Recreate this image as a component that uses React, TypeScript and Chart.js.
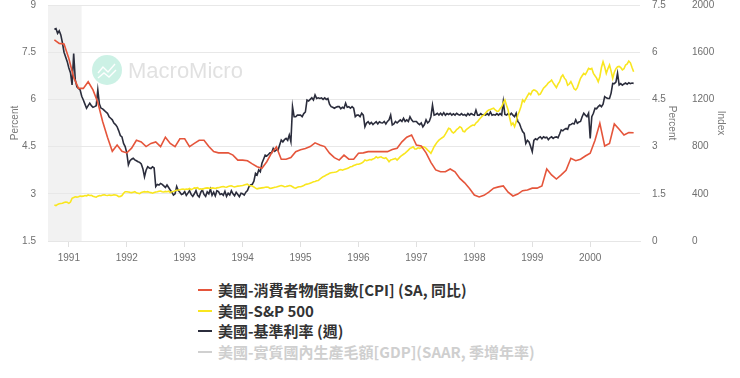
import React, { useEffect, useRef } from "react";
import { Chart, registerables } from "chart.js";

Chart.register(...registerables);

// ---- x positions (decimal years) ----
const SERIES_START = 1990.75; // October 1990
const MONTH_STEP = 1 / 12;
const THIRD_MONTH_STEP = 1 / 36;
const X_MIN = 1990.64;
const X_MAX = 2000.86;
const RECESSION_END = 1991.22;

// ---- tick labels ----
const yearTicks = [1991, 1992, 1993, 1994, 1995, 1996, 1997, 1998, 1999, 2000];
const leftPercentTicks = [1.5, 3, 4.5, 6, 7.5, 9];
const rightPercentTicks = [0, 1.5, 3, 4.5, 6, 7.5];
const indexTicks = [0, 400, 800, 1200, 1600, 2000];

// ---- series names / colours ----
const seriesNames = [
  "美國-消費者物價指數[CPI] (SA, 同比)",
  "美國-S&P 500",
  "美國-基準利率 (週)",
  "美國-實質國內生產毛額[GDP](SAAR, 季增年率)",
];
const seriesColors = ["#e5553b", "#f9e61f", "#2b2d3c", "#d0d0d0"];
const legendTextColors = ["#333333", "#333333", "#333333", "#cfcfcf"];

// ---- CPI yoy, monthly from Oct 1990 ----
const cpi = [
  6.39, 6.28, 6.26,
  5.8, 5.2, 4.85, 4.85, 5.06, 4.8, 4.4, 3.8, 3.3, 2.85, 3.05, 2.85,
  2.8, 2.95, 3.2, 3.15, 3.0, 3.1, 3.15, 3.0, 3.3, 3.1, 3.0, 3.25,
  3.25, 3.0, 3.1, 3.2, 3.2, 3.0, 2.84, 2.8, 2.8, 2.8, 2.73, 2.57,
  2.57, 2.55, 2.45, 2.36, 2.31, 2.52, 2.8, 2.99, 2.6, 2.6, 2.65, 2.84,
  2.9, 2.94, 3.0, 3.12, 3.05, 3.0, 2.79, 2.65, 2.57, 2.73, 2.6, 2.6,
  2.79, 2.8, 2.84, 2.84, 2.84, 2.84, 2.84, 2.91, 2.95, 3.15, 3.3, 3.37,
  3.05, 3.02, 2.8, 2.5, 2.26, 2.2, 2.2, 2.29, 2.2, 1.99, 1.85, 1.67,
  1.46, 1.4, 1.45, 1.55, 1.68, 1.72, 1.75, 1.55, 1.43, 1.49, 1.6, 1.62,
  1.68, 1.68, 1.75, 2.29, 2.1, 1.97, 2.1, 2.25, 2.63, 2.55, 2.6, 2.7,
  2.79, 3.2, 3.74, 3.02, 3.1, 3.72, 3.55, 3.37, 3.45, 3.44,
];

// ---- S&P 500, three readings per month from Oct 1990 ----
const sp500 = [
  305, 300, 310, 315, 318, 320, 326, 330, 328,
  319, 330, 362, 368, 375, 372, 375, 381, 378, 380, 385, 383, 390, 386, 388, 380, 375, 372, 380, 386, 384, 390, 392, 388, 386, 390, 387, 388, 392, 390, 385, 375, 378, 385, 405, 418,
  418, 415, 412, 410, 414, 418, 408, 405, 402, 412, 416, 418, 415, 418, 413, 410, 405, 410, 415, 418, 422, 424, 418, 415, 420, 418, 422, 410, 418, 420, 425, 430, 432, 435, 438, 440,
  436, 440, 438, 445, 435, 442, 450, 448, 452, 440, 442, 438, 445, 448, 450, 448, 445, 450, 448, 445, 450, 452, 456, 460, 462, 458, 456, 462, 466, 468, 462, 458, 462, 465, 466, 468,
  470, 474, 478, 482, 470, 468, 466, 458, 448, 442, 446, 448, 450, 452, 456, 458, 455, 446, 448, 452, 456, 458, 462, 466, 470, 466, 460, 462, 465, 470, 468, 460, 452, 448, 455, 460,
  460, 465, 470, 478, 482, 485, 490, 495, 502, 505, 510, 512, 525, 535, 545, 550, 560, 565, 574, 578, 580, 582, 585, 590, 602, 605, 600, 605, 610, 615, 620, 630, 632, 640, 645, 650,
  650, 655, 660, 670, 686, 680, 685, 690, 688, 695, 700, 714, 705, 710, 714, 705, 700, 706, 690, 672, 686, 690, 695, 700, 686, 700, 715, 725, 735, 745, 757, 770, 785, 790, 799, 780,
  780, 790, 785, 790, 800, 795, 785, 770, 758, 743, 770, 799, 820, 840, 855, 865, 875, 884, 905, 930, 955, 950, 926, 915, 926, 945, 955, 969, 960, 930, 926, 945, 955, 965, 975, 983,
  980, 1000, 1011, 1030, 1045, 1060, 1068, 1085, 1100, 1110, 1115, 1120, 1125, 1110, 1100, 1100, 1120, 1138, 1170, 1195, 1150, 1110, 1040, 983, 1000, 969, 1010, 1068, 1100, 1140, 1195, 1180, 1205, 1230, 1252, 1240,
  1270, 1280, 1275, 1265, 1240, 1245, 1270, 1295, 1308, 1322, 1340, 1350, 1364, 1340, 1320, 1300, 1330, 1350, 1390, 1407, 1380, 1364, 1320, 1330, 1350, 1322, 1290, 1280, 1300, 1340, 1379, 1400, 1420, 1410, 1435, 1463,
  1455, 1463, 1421, 1400, 1380, 1350, 1392, 1470, 1519, 1477, 1421, 1460, 1492, 1440, 1379, 1430, 1460, 1477, 1480, 1470, 1450, 1460, 1492, 1500, 1525, 1510, 1470, 1435,
];

// ---- Fed funds rate, three readings per month from Oct 1990 ----
const fedRate = [
  8.23, 8.25, 8.1, 8.18, 8.05, 7.8, 7.5, 7.35, 7.2,
  7.0, 6.85, 6.46, 7.46, 6.62, 6.4, 6.35, 6.3, 6.1, 5.98, 5.85, 5.72, 5.8, 5.88, 5.8, 5.75, 5.77, 5.8, 6.3, 5.85, 5.72, 5.7, 5.65, 5.6, 5.56, 5.45, 5.4, 5.35, 5.25, 5.2, 5.13, 5.0, 4.85, 4.81, 4.6, 4.5,
  4.3, 3.92, 4.05, 4.1, 4.13, 4.08, 4.05, 4.02, 4.0, 3.95, 3.8, 3.54, 3.75, 3.86, 3.82, 3.8, 3.86, 3.82, 3.23, 3.3, 3.28, 3.33, 3.3, 3.25, 3.2, 3.28, 3.2, 3.12, 3.05, 2.96, 3.0, 3.23, 3.1, 3.05, 2.98, 3.0,
  3.07, 2.95, 3.02, 3.1, 2.98, 2.92, 3.0, 3.1, 2.95, 2.9, 3.05, 3.12, 2.98, 2.92, 3.06, 3.0, 3.15, 2.95, 3.05, 2.93, 3.1, 3.07, 2.98, 3.0, 2.95, 3.08, 2.92, 3.02, 2.96, 3.1, 3.0, 2.94, 3.05, 2.98, 2.91, 3.02,
  3.0, 2.96, 3.05, 3.1, 3.23, 3.28, 3.3, 3.4, 3.65, 3.6, 3.76, 3.7, 3.97, 4.1, 4.23, 4.2, 4.25, 4.3, 4.3, 4.44, 4.35, 4.4, 4.39, 4.55, 4.71, 4.65, 4.72, 4.76, 4.7, 4.87, 4.66, 5.77, 5.45, 5.45, 5.5, 5.5,
  5.5, 5.45, 5.55, 5.6, 5.98, 5.95, 6.0, 6.05, 5.98, 6.14, 6.03, 6.05, 6.03, 6.05, 6.0, 6.05, 6.0, 6.03, 5.85, 5.77, 5.75, 5.72, 5.75, 5.77, 5.77, 5.7, 5.75, 5.72, 5.88, 5.75, 5.77, 5.72, 5.77, 5.72, 5.45, 5.5,
  5.5, 5.45, 5.56, 5.5, 5.13, 5.25, 5.29, 5.22, 5.27, 5.2, 5.25, 5.29, 5.22, 5.29, 5.26, 5.25, 5.3, 5.22, 5.3, 5.35, 5.5, 5.19, 5.22, 5.3, 5.25, 5.3, 5.35, 5.3, 5.4, 5.3, 5.35, 5.3, 5.45, 5.35, 5.29, 5.3,
  5.3, 5.24, 5.2, 5.25, 5.13, 5.2, 5.35, 5.25, 5.3, 5.45, 5.82, 5.5, 5.52, 5.56, 5.5, 5.56, 5.5, 5.58, 5.5, 5.55, 5.52, 5.56, 5.5, 5.54, 5.5, 5.56, 5.52, 5.5, 5.55, 5.5, 5.52, 5.48, 5.55, 5.5, 5.55, 5.52,
  5.5, 5.66, 5.5, 5.5, 5.55, 5.5, 5.52, 5.5, 5.55, 5.5, 5.6, 5.5, 5.52, 5.5, 5.55, 5.5, 5.55, 5.5, 5.93, 5.52, 5.5, 5.55, 5.5, 5.56, 5.5, 5.45, 5.56, 5.3, 5.24, 5.1, 4.98, 4.92, 4.6, 4.7, 4.65, 4.5,
  4.34, 4.7, 4.75, 4.72, 4.78, 4.81, 4.75, 4.81, 4.78, 4.8, 4.72, 4.78, 4.81, 4.76, 4.8, 4.81, 4.78, 4.9, 5.03, 5.0, 5.05, 5.08, 5.05, 5.19, 5.2, 5.24, 5.22, 5.35, 5.24, 5.28, 5.3, 5.45, 5.56, 5.5, 5.45, 5.56,
  4.76, 5.45, 5.56, 5.72, 5.7, 5.77, 5.82, 5.77, 5.85, 6.09, 6.05, 6.03, 6.03, 6.2, 6.51, 6.5, 6.55, 6.83, 6.46, 6.5, 6.45, 6.49, 6.52, 6.48, 6.53, 6.5, 6.52, 6.51,
];

const TICK_FONT = { family: "'Liberation Sans', Arial, sans-serif", size: 10 };
const TICK_COLOR = "#6f6f6f";

const recessionPlugin = {
  id: "recessionBand",
  beforeDraw(chart: any) {
    const { ctx, chartArea, scales } = chart;
    const x0 = scales.x.getPixelForValue(X_MIN);
    const x1 = scales.x.getPixelForValue(RECESSION_END);
    ctx.save();
    ctx.fillStyle = "#f2f2f2";
    ctx.fillRect(x0, chartArea.top, x1 - x0, chartArea.bottom - chartArea.top);
    ctx.restore();
  },
};

const watermarkPlugin = {
  id: "watermark",
  beforeDatasetsDraw(chart: any) {
    const { ctx, chartArea } = chart;
    const cx = chartArea.left + 59;
    const cy = chartArea.top + 65;
    ctx.save();
    ctx.fillStyle = "rgba(110, 215, 180, 0.35)";
    ctx.beginPath();
    ctx.arc(cx, cy, 15, 0, Math.PI * 2);
    ctx.fill();
    ctx.strokeStyle = "rgba(255,255,255,0.95)";
    ctx.lineWidth = 1.4;
    ctx.beginPath();
    ctx.moveTo(cx - 9, cy + 3);
    ctx.lineTo(cx - 4, cy - 3);
    ctx.lineTo(cx + 1, cy + 2);
    ctx.lineTo(cx + 8, cy - 6);
    ctx.stroke();
    ctx.beginPath();
    ctx.moveTo(cx - 9, cy + 8);
    ctx.lineTo(cx - 3, cy + 3);
    ctx.lineTo(cx + 2, cy + 7);
    ctx.lineTo(cx + 9, cy);
    ctx.stroke();
    ctx.fillStyle = "rgba(205, 205, 205, 0.6)";
    ctx.font = "500 22px 'Liberation Sans', Arial, sans-serif";
    ctx.textBaseline = "middle";
    ctx.textAlign = "left";
    ctx.fillText("MacroMicro", cx + 21, cy + 2);
    ctx.restore();
  },
};

const fixedTicks = (values: number[]) => (scale: any) => {
  scale.ticks = values.map((v) => ({ value: v }));
};

const fitVertical = (width: number) => (s: any) => {
  s.width = width;
  s.paddingTop = 5;
  s.paddingBottom = 5;
};

export default function App() {
  const canvasRef = useRef<HTMLCanvasElement | null>(null);

  useEffect(() => {
    if (!canvasRef.current) return;
    const cpiData = cpi.map((v, i) => ({ x: SERIES_START + i * MONTH_STEP, y: v }));
    const spData = sp500.map((v, i) => ({ x: SERIES_START + i * THIRD_MONTH_STEP, y: v }));
    const fedData = fedRate.map((v, i) => ({ x: SERIES_START + i * THIRD_MONTH_STEP, y: v }));

    const chart = new Chart(canvasRef.current, {
      type: "line",
      data: {
        datasets: [
          { label: seriesNames[0], data: cpiData, yAxisID: "y1", borderColor: seriesColors[0], borderWidth: 1.6, pointRadius: 0, tension: 0 },
          { label: seriesNames[1], data: spData, yAxisID: "y2", borderColor: seriesColors[1], borderWidth: 1.6, pointRadius: 0, tension: 0 },
          { label: seriesNames[2], data: fedData, yAxisID: "y", borderColor: seriesColors[2], borderWidth: 1.6, pointRadius: 0, tension: 0 },
        ],
      },
      options: {
        animation: false,
        responsive: false,
        maintainAspectRatio: false,
        parsing: false as any,
        layout: { padding: { left: 0, right: 9, top: 5, bottom: 0 } },
        plugins: { legend: { display: false }, tooltip: { enabled: false } },
        scales: {
          x: {
            type: "linear",
            min: X_MIN,
            max: X_MAX,
            afterBuildTicks: fixedTicks(yearTicks),
            afterFit: (s: any) => { s.height = 29; },
            grid: { drawOnChartArea: false, drawTicks: true, tickLength: 6, color: "#e0e0e0" },
            border: { display: true, color: "#e6e6e6" },
            ticks: { font: TICK_FONT, color: TICK_COLOR, padding: 5, maxRotation: 0, autoSkip: false, callback: (v: any) => String(v) },
          },
          y: {
            position: "left",
            min: 1.5,
            max: 9,
            afterBuildTicks: fixedTicks(leftPercentTicks),
            afterFit: fitVertical(48),
            grid: { color: "#e8e8e8", drawTicks: false },
            border: { display: false },
            ticks: { font: TICK_FONT, color: TICK_COLOR, padding: 12, callback: (v: any) => String(v) },
            title: { display: true, text: "Percent", color: "#7a7a7a", font: { family: TICK_FONT.family, size: 10 }, padding: { top: 9, bottom: 0 } },
          },
          y1: {
            position: "right",
            weight: 0,
            min: 0,
            max: 7.5,
            afterBuildTicks: fixedTicks(rightPercentTicks),
            afterFit: fitVertical(42),
            grid: { drawOnChartArea: false, drawTicks: false },
            border: { display: false },
            ticks: { font: TICK_FONT, color: TICK_COLOR, padding: 12, callback: (v: any) => String(v) },
            title: { display: true, text: "Percent", color: "#7a7a7a", font: { family: TICK_FONT.family, size: 10 }, padding: { top: 4, bottom: 0 } },
          },
          y2: {
            position: "right",
            weight: 1,
            min: 0,
            max: 2000,
            afterBuildTicks: fixedTicks(indexTicks),
            afterFit: fitVertical(49),
            grid: { drawOnChartArea: false, drawTicks: false },
            border: { display: false },
            ticks: { font: TICK_FONT, color: TICK_COLOR, padding: 10, callback: (v: any) => String(v) },
            title: { display: true, text: "Index", color: "#7a7a7a", font: { family: TICK_FONT.family, size: 10 }, padding: { top: 4, bottom: 0 } },
          },
        },
      } as any,
      plugins: [recessionPlugin, watermarkPlugin],
    });
    return () => chart.destroy();
  }, []);

  return (
    <div style={{ position: "absolute", left: 0, top: 0, width: 740, height: 378, background: "#fff" }}>
      <canvas ref={canvasRef} width={740} height={270} style={{ display: "block", width: 740, height: 270 }} />
      <div
        style={{
          position: "absolute",
          left: 198,
          top: 280,
          fontFamily: "'Noto Sans CJK TC', 'Noto Sans', sans-serif",
          fontSize: 15,
          fontWeight: 600,
          lineHeight: "20.5px",
        }}
      >
        {seriesNames.map((name, i) => (
          <div key={name} style={{ display: "flex", alignItems: "center", whiteSpace: "nowrap", color: legendTextColors[i] }}>
            <span style={{ display: "inline-block", width: 14, height: 2, background: seriesColors[i], marginRight: 6 }} />
            <span>{name}</span>
          </div>
        ))}
      </div>
    </div>
  );
}
